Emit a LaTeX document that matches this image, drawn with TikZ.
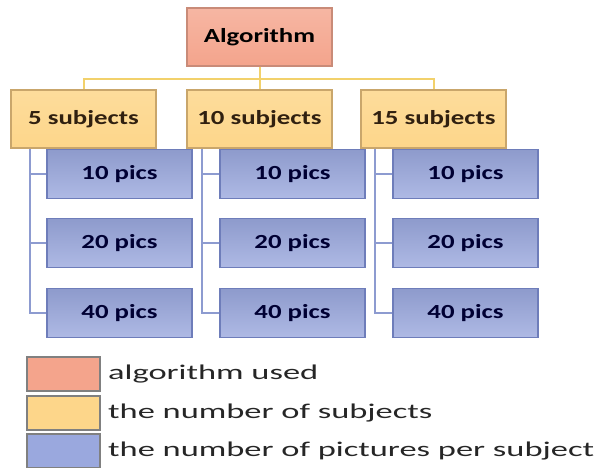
\documentclass[tikz,border=0pt]{standalone}
\usepackage{fontspec}
\setmainfont{Carlito}
\newfontfamily\boxfont{Carlito}[FakeStretch=1.34]
\newfontfamily\legfont{Carlito}[FakeStretch=1.64]
\definecolor{algfill}{HTML}{F4A48C}
\definecolor{algdraw}{HTML}{C98B78}
\definecolor{subfill}{HTML}{FDD68A}
\definecolor{subdraw}{HTML}{C9A66B}
\definecolor{picfill}{HTML}{9AA8DE}
\definecolor{picdraw}{HTML}{6E7DBA}
\definecolor{yline}{HTML}{F2D16B}
\definecolor{bline}{HTML}{8D9BD0}
\tikzset{
  algbox/.style={draw=algdraw,line width=1.2pt,top color=algfill!80!white,bottom color=algfill,
    minimum width=145pt,minimum height=58pt,font=\boxfont\bfseries\fontsize{20}{22}\selectfont},
  subbox/.style={draw=subdraw,line width=1.2pt,top color=subfill!85!white,bottom color=subfill,
    minimum width=145pt,minimum height=58pt,text=black!75!brown,font=\boxfont\bfseries\fontsize{20}{22}\selectfont},
  picbox/.style={draw=picdraw,line width=1.2pt,top color=picfill!92!black,bottom color=picfill!80!white,
    minimum width=145pt,minimum height=49pt,text=blue!20!black,font=\boxfont\bfseries\fontsize{20}{22}\selectfont},
  swatch/.style={draw=gray,line width=1.2pt,minimum width=73pt,minimum height=34pt},
  legtext/.style={anchor=west,font=\legfont\fontsize{21}{23}\selectfont,text=black!85},
}
\begin{document}
\begin{tikzpicture}[x=1pt,y=-1pt]
    \useasboundingbox (0,0) rectangle (595,468);% page size
    \node[algbox] (alg) at (259.5,37) {Algorithm};% top box
    % subjects and pictures
    \foreach \i/\x/\n/\d/\b in {1/83.5/5/36/20,2/259.5/10/33/16,3/433.5/15/32/15}{
        \node[subbox] (s\i) at (\x,119) {\n\ subjects};
        \draw[yline,line width=2pt] (alg.south) -- ++(0,12) -| (s\i.north);
        \foreach \j/\y/\p in {1/174/10,2/243/20,3/313/40}{
            \node[picbox] (p\i\j) at (\x+\d,\y) {\p\ pics};
            \draw[bline,line width=2pt] ([xshift=\b pt]s\i.south west) |- (p\i\j.west);
        }
    }
    % legend
    \node[swatch,fill=algfill] (k1) at (63.5,374) {};
    \node[swatch,fill=subfill] (k2) at (63.5,413) {};
    \node[swatch,fill=picfill] (k3) at (63.5,451) {};
    \node[legtext] at ([xshift=4pt]k1.east) {algorithm used};
    \node[legtext] at ([xshift=4pt]k2.east) {the number of subjects};
    \node[legtext] at ([xshift=4pt]k3.east) {the number of pictures per subject};
\end{tikzpicture}
\end{document}
